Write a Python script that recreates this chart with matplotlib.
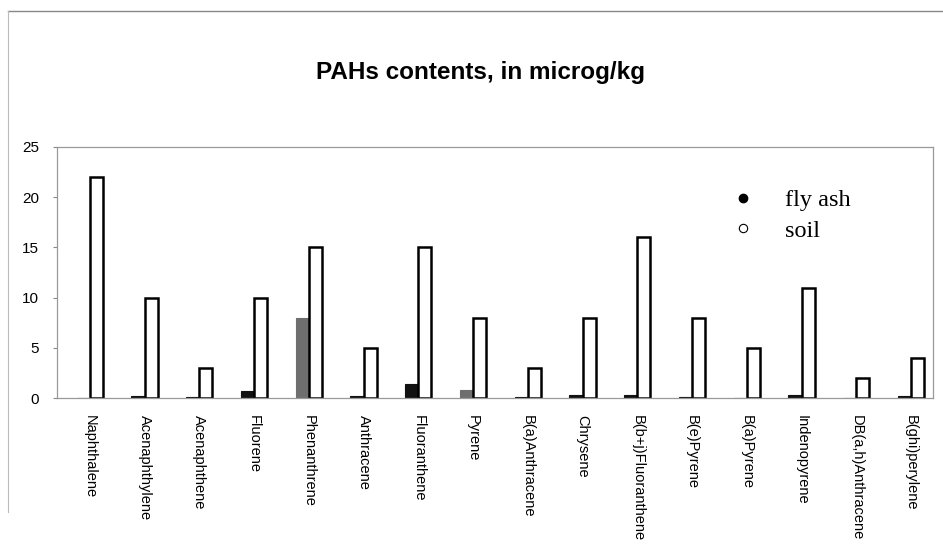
import matplotlib
matplotlib.use("Agg")
import matplotlib.pyplot as plt
from matplotlib.lines import Line2D
import numpy as np

categories = ["Naphthalene", "Acenaphthylene", "Acenaphthene", "Fluorene",
              "Phenanthrene", "Anthracene", "Fluoranthene", "Pyrene",
              "B(a)Anthracene", "Chrysene", "B(b+j)Fluoranthene", "B(e)Pyrene",
              "B(a)Pyrene", "Indenopyrene", "DB(a,h)Anthracene", "B(ghi)perylene"]
fly_ash = [0.0, 0.2, 0.1, 0.7, 8.0, 0.15, 1.4, 0.8, 0.1, 0.3, 0.3, 0.1, 0.0, 0.3, 0.0, 0.15]
soil = [22, 10, 3, 10, 15, 5, 15, 8, 3, 8, 16, 8, 5, 11, 2, 4]
fly_colors = ["#111111"] * 16
fly_colors[4] = "#6e6e6e"
fly_colors[7] = "#6e6e6e"
yticks = [0, 5, 10, 15, 20, 25]

fig = plt.figure(figsize=(9.43, 5.54), dpi=100)
ax = fig.add_axes([57/943, 1-398/554, (933-57)/943, (398-147)/554])

x = np.arange(len(categories))
w = 0.24
ax.bar(x - w/2, fly_ash, width=w, color=fly_colors, edgecolor=fly_colors, linewidth=0.8)
ax.bar(x + w/2, soil, width=w, color="white", edgecolor="black", linewidth=1.8)

ax.set_xlim(-0.6, 15.4)
ax.set_ylim(0, 25)
ax.set_yticks(yticks)
ax.set_yticklabels([str(t) for t in yticks], fontsize=11, family="Liberation Sans")
ax.set_xticks(x)
ax.set_xticklabels(categories, rotation=270, fontsize=10.5, family="Liberation Sans",
                   va="top", ha="center")
ax.tick_params(axis="x", length=0, pad=12)
ax.tick_params(axis="y", length=3, width=0.8, color="#888888", pad=10)
for s in ["left", "bottom", "top", "right"]:
    ax.spines[s].set_color("#999999")
    ax.spines[s].set_linewidth(0.9)

fig.text(481/943, 1-72/554, "PAHs contents, in microg/kg", ha="center", va="center",
         fontsize=17.5, fontweight="bold", family="Liberation Sans")

handles = [Line2D([], [], marker="o", linestyle="none", color="black",
                  markerfacecolor="black", markersize=6),
           Line2D([], [], marker="o", linestyle="none", color="black",
                  markerfacecolor="white", markersize=6, markeredgewidth=0.8)]
ax.legend(handles, ["fly ash", "soil"], loc="upper left",
          bbox_to_anchor=(719/943, 1-177/554), bbox_transform=fig.transFigure,
          frameon=False, prop={"family": "Liberation Serif", "size": 17.5},
          handlelength=1.0, handletextpad=1.2, labelspacing=0.35, borderpad=0)

# outer frame of the scanned figure
fig.add_artist(Line2D([8/943, 1.0], [1-11/554, 1-11/554], transform=fig.transFigure,
                      color="#888888", linewidth=1.0))
fig.add_artist(Line2D([8/943, 8/943], [1-11/554, 1-512/554], transform=fig.transFigure,
                      color="#bbbbbb", linewidth=0.8))

fig.savefig("out.png", dpi=100)
